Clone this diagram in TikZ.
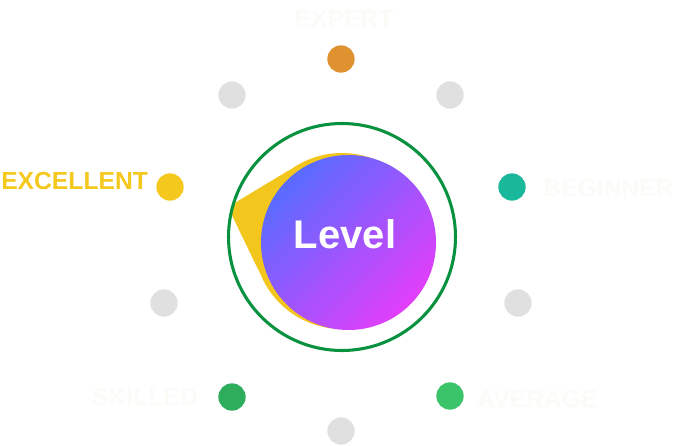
\documentclass[tikz,border=0pt]{standalone}
\usepackage{fontspec}
\setmainfont{Liberation Sans}
\usetikzlibrary{calc}
\definecolor{ringgreen}{RGB}{8,146,64}
\definecolor{gblue}{RGB}{88,108,255}
\definecolor{gmag}{RGB}{226,62,250}
\definecolor{tipyellow}{RGB}{243,198,30}
\definecolor{dotorange}{RGB}{224,145,48}
\definecolor{dotyellow}{RGB}{245,200,30}
\definecolor{dotteal}{RGB}{26,184,154}
\definecolor{dotgreenA}{RGB}{46,174,92}
\definecolor{dotgreenB}{RGB}{60,196,106}
\definecolor{dotgray}{RGB}{224,224,224}
\definecolor{faint}{RGB}{252,251,248}
\begin{document}
\begin{tikzpicture}[x=0.75pt,y=0.75pt,
  dot/.style={circle,inner sep=0pt,minimum size=20.5pt,fill=#1},
  lab/.style={inner sep=0pt,font=\fontsize{18.5}{20}\selectfont\bfseries,text=faint}]
\useasboundingbox (0,0) rectangle (676,-446);
% yellow teardrop
\coordinate (yc) at (342,-241);
\coordinate (tip) at (228,-207);
\coordinate (t1) at ($(yc)+(122.5:88)$);
\coordinate (t2) at ($(yc)+(204:88)$);
\fill[tipyellow] (yc) circle[radius=88];
\fill[tipyellow,rounded corners=6pt] (tip) -- (t1) -- (yc) -- (t2) -- cycle;
% gradient circle
\shade[top color=gblue,bottom color=gmag,shading angle=45] (348.5,-242.5) circle[radius=87.5];
\node[font=\fontsize{30}{32}\selectfont\bfseries,text=white,inner sep=0pt] (level) at (345,-234) {Level};
% ring
\draw[ringgreen,line width=2.3pt] (342,-237) circle[radius=113.5];
% dots
\node[dot=dotorange] (dexpert) at (341,-59) {};
\node[dot=dotgray] (g1) at (232,-95) {};
\node[dot=dotgray] (g2) at (450,-95) {};
\node[dot=dotyellow] (dexcellent) at (170,-187) {};
\node[dot=dotteal] (dbeginner) at (512,-187) {};
\node[dot=dotgray] (g3) at (164,-303) {};
\node[dot=dotgray] (g4) at (518,-303) {};
\node[dot=dotgreenA] (dskilled) at (232,-397) {};
\node[dot=dotgreenB] (daverage) at (450,-396) {};
\node[dot=dotgray] (g5) at (341,-431) {};
% labels
\node[lab] (lexpert) at (344,-19) {EXPERT};
\node[lab,anchor=west] (lbeginner) at (543,-188) {BEGINNER};
\node[lab,anchor=east] (lskilled) at (198,-397) {SKILLED};
\node[lab,anchor=west] (laverage) at (477,-399) {AVERAGE};
\node[lab,anchor=west,text=dotyellow] (lexcellent) at (1,-181) {EXCELLENT};
\end{tikzpicture}
\end{document}
